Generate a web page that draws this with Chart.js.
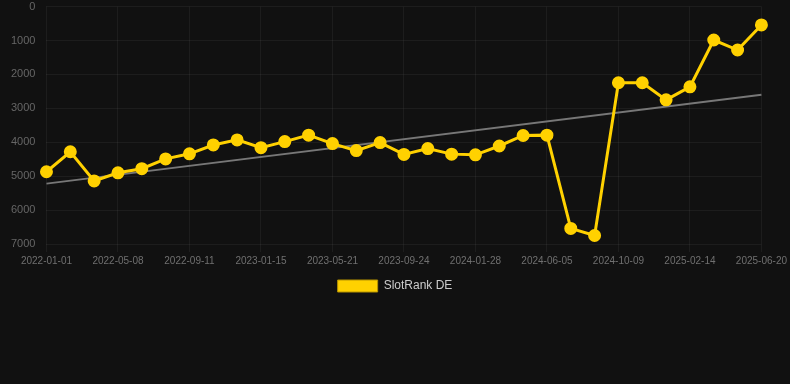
<!DOCTYPE html>
<html>
<head>
<meta charset="utf-8">
<script src="https://cdn.jsdelivr.net/npm/chart.js@4/dist/chart.umd.min.js"></script>
<style>
html,body{margin:0;padding:0;background:#111111;overflow:hidden;width:790px;height:384px;}
#wrap{width:790px;height:395px;position:relative;top:-11px;}
</style>
</head>
<body>
<div id="wrap"><canvas id="c"></canvas></div>
<script>
const labels = ["2022-01-01","2022-02-12","2022-03-26","2022-05-08","2022-06-19","2022-07-31","2022-09-11","2022-10-23","2022-12-04","2023-01-15","2023-02-26","2023-04-09","2023-05-21","2023-07-02","2023-08-13","2023-09-24","2023-11-05","2023-12-17","2024-01-28","2024-03-10","2024-04-22","2024-06-05","2024-07-17","2024-08-28","2024-10-09","2024-11-20","2025-01-02","2025-02-14","2025-03-28","2025-05-09","2025-06-20"];
const slotRankDE = [4870,4280,5140,4900,4780,4490,4340,4080,3930,4160,3980,3790,4040,4245,4010,4360,4185,4350,4370,4110,3800,3790,6540,6750,2245,2245,2750,2365,985,1280,540];
const trendStart = 5220;
const trendEnd = 2600;
const yTicks = [0,1000,2000,3000,4000,5000,6000,7000];

const trend = labels.map((_, i) => i === 0 ? trendStart : (i === labels.length - 1 ? trendEnd : null));
const FONT = "'Liberation Sans', Arial, sans-serif";

new Chart(document.getElementById('c'), {
  type: 'line',
  data: {
    labels: labels,
    datasets: [
      {
        label: 'SlotRank DE',
        data: slotRankDE,
        borderColor: '#FFD100',
        backgroundColor: '#FFD100',
        borderWidth: 3,
        pointRadius: 5,
        pointHoverRadius: 5,
        pointBackgroundColor: '#FFD100',
        pointBorderColor: '#FFD100',
        tension: 0,
        order: 1
      },
      {
        label: 'Trend',
        data: trend,
        spanGaps: true,
        borderColor: '#777777',
        borderWidth: 2,
        pointRadius: 0,
        fill: false,
        order: 2
      }
    ]
  },
  options: {
    responsive: true,
    maintainAspectRatio: false,
    animation: false,
    layout: { padding: { left: 0, right: 0, top: 0, bottom: 82 } },
    plugins: {
      legend: {
        position: 'bottom',
        labels: {
          color: '#cccccc',
          boxWidth: 40,
          boxHeight: 12,
          font: { size: 12, family: FONT },
          filter: (item) => item.text === 'SlotRank DE',
          generateLabels: (chart) => {
            const items = Chart.defaults.plugins.legend.labels.generateLabels(chart);
            items.forEach(it => { it.lineWidth = 1; it.strokeStyle = '#b89400'; it.fillStyle = '#FFD100'; });
            return items;
          }
        }
      },
      tooltip: { enabled: false }
    },
    scales: {
      x: {
        ticks: {
          autoSkip: false,
          maxRotation: 0,
          color: '#707070',
          font: { size: 10, family: FONT },
          callback: function(v, i) { return i % 3 === 0 ? labels[i] : ''; }
        },
        grid: {
          color: (ctx) => (ctx.index % 3 === 0 ? 'rgba(255,255,255,0.05)' : 'rgba(0,0,0,0)'),
          drawTicks: true,
          tickLength: 8
        },
        border: { display: false }
      },
      y: {
        reverse: true,
        min: 0,
        max: 7000,
        afterBuildTicks: (axis) => { axis.ticks = yTicks.map(v => ({ value: v })); },
        ticks: {
          color: '#666666',
          font: { size: 11, family: FONT },
          padding: 11,
          callback: (v) => String(v)
        },
        grid: { color: 'rgba(255,255,255,0.05)', drawTicks: false },
        border: { display: false }
      }
    }
  }
});
</script>
</body>
</html>
